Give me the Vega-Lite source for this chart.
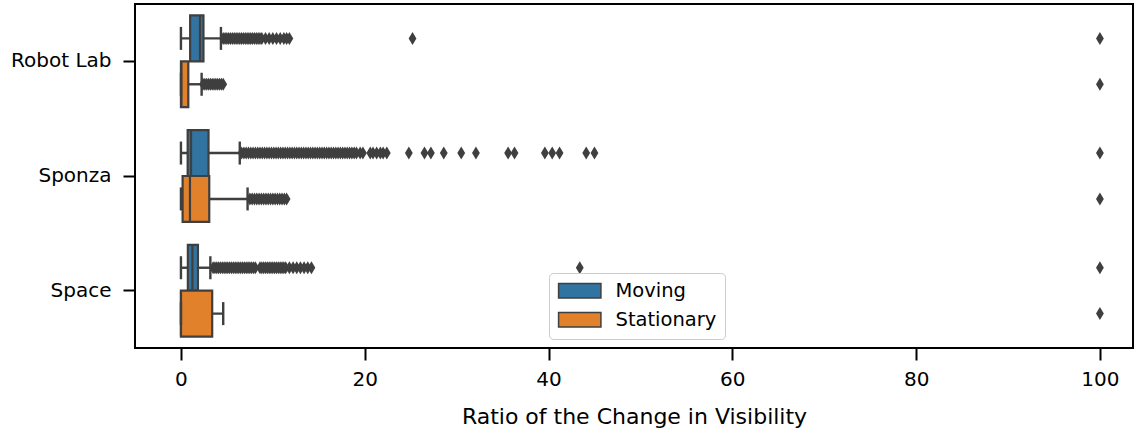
{
  "$schema": "https://vega.github.io/schema/vega-lite/v6.json",
  "width": 998,
  "height": 344,
  "autosize": {"type": "none"},
  "padding": {"left": 135, "top": 4, "right": 1, "bottom": 82},
  "background": "white",
  "config": {
    "font": "DejaVu Sans",
    "view": {"stroke": "black", "strokeWidth": 2},
    "axis": {
      "grid": false,
      "domain": false,
      "tickColor": "black",
      "tickWidth": 2,
      "tickSize": 12,
      "labelColor": "black",
      "labelFont": "DejaVu Sans",
      "labelFontSize": 20,
      "titleFont": "DejaVu Sans",
      "titleFontSize": 22,
      "titleFontWeight": "normal",
      "titleColor": "black"
    },
    "legend": {
      "labelFont": "DejaVu Sans",
      "labelFontSize": 19.5,
      "labelColor": "black"
    }
  },
  "datasets": {
    "boxes": [
      {"scene": "Robot Lab", "kind": "Moving", "lo": 0.0, "q1": 1.0, "med": 2.07, "q3": 2.45, "hi": 4.35},
      {"scene": "Robot Lab", "kind": "Stationary", "lo": 0.0, "q1": 0.0, "med": 0.05, "q3": 0.8, "hi": 2.25},
      {"scene": "Sponza", "kind": "Moving", "lo": 0.0, "q1": 0.73, "med": 1.1, "q3": 3.0, "hi": 6.4},
      {"scene": "Sponza", "kind": "Stationary", "lo": 0.0, "q1": 0.18, "med": 0.98, "q3": 3.08, "hi": 7.25},
      {"scene": "Space", "kind": "Moving", "lo": 0.0, "q1": 0.75, "med": 1.25, "q3": 1.85, "hi": 3.2},
      {"scene": "Space", "kind": "Stationary", "lo": 0.0, "q1": 0.0, "med": 0.0, "q3": 3.4, "hi": 4.6}
    ],
    "fliers": [
      {"scene": "Robot Lab", "kind": "Moving", "v": 4.6},
      {"scene": "Robot Lab", "kind": "Moving", "v": 4.8},
      {"scene": "Robot Lab", "kind": "Moving", "v": 5.0},
      {"scene": "Robot Lab", "kind": "Moving", "v": 5.2},
      {"scene": "Robot Lab", "kind": "Moving", "v": 5.4},
      {"scene": "Robot Lab", "kind": "Moving", "v": 5.6},
      {"scene": "Robot Lab", "kind": "Moving", "v": 5.8},
      {"scene": "Robot Lab", "kind": "Moving", "v": 6.0},
      {"scene": "Robot Lab", "kind": "Moving", "v": 6.2},
      {"scene": "Robot Lab", "kind": "Moving", "v": 6.4},
      {"scene": "Robot Lab", "kind": "Moving", "v": 6.6},
      {"scene": "Robot Lab", "kind": "Moving", "v": 6.8},
      {"scene": "Robot Lab", "kind": "Moving", "v": 7.0},
      {"scene": "Robot Lab", "kind": "Moving", "v": 7.2},
      {"scene": "Robot Lab", "kind": "Moving", "v": 7.4},
      {"scene": "Robot Lab", "kind": "Moving", "v": 7.6},
      {"scene": "Robot Lab", "kind": "Moving", "v": 7.8},
      {"scene": "Robot Lab", "kind": "Moving", "v": 8.0},
      {"scene": "Robot Lab", "kind": "Moving", "v": 8.2},
      {"scene": "Robot Lab", "kind": "Moving", "v": 8.4},
      {"scene": "Robot Lab", "kind": "Moving", "v": 8.6},
      {"scene": "Robot Lab", "kind": "Moving", "v": 8.8},
      {"scene": "Robot Lab", "kind": "Moving", "v": 9.2},
      {"scene": "Robot Lab", "kind": "Moving", "v": 9.6},
      {"scene": "Robot Lab", "kind": "Moving", "v": 10.0},
      {"scene": "Robot Lab", "kind": "Moving", "v": 10.4},
      {"scene": "Robot Lab", "kind": "Moving", "v": 10.8},
      {"scene": "Robot Lab", "kind": "Moving", "v": 11.2},
      {"scene": "Robot Lab", "kind": "Moving", "v": 11.5},
      {"scene": "Robot Lab", "kind": "Moving", "v": 11.8},
      {"scene": "Robot Lab", "kind": "Moving", "v": 25.2},
      {"scene": "Robot Lab", "kind": "Moving", "v": 100},
      {"scene": "Robot Lab", "kind": "Stationary", "v": 2.4},
      {"scene": "Robot Lab", "kind": "Stationary", "v": 2.6},
      {"scene": "Robot Lab", "kind": "Stationary", "v": 2.8},
      {"scene": "Robot Lab", "kind": "Stationary", "v": 3.0},
      {"scene": "Robot Lab", "kind": "Stationary", "v": 3.2},
      {"scene": "Robot Lab", "kind": "Stationary", "v": 3.4},
      {"scene": "Robot Lab", "kind": "Stationary", "v": 3.6},
      {"scene": "Robot Lab", "kind": "Stationary", "v": 3.8},
      {"scene": "Robot Lab", "kind": "Stationary", "v": 4.0},
      {"scene": "Robot Lab", "kind": "Stationary", "v": 4.2},
      {"scene": "Robot Lab", "kind": "Stationary", "v": 4.4},
      {"scene": "Robot Lab", "kind": "Stationary", "v": 4.6},
      {"scene": "Robot Lab", "kind": "Stationary", "v": 100},
      {"scene": "Sponza", "kind": "Moving", "v": 6.6},
      {"scene": "Sponza", "kind": "Moving", "v": 6.85},
      {"scene": "Sponza", "kind": "Moving", "v": 7.1},
      {"scene": "Sponza", "kind": "Moving", "v": 7.35},
      {"scene": "Sponza", "kind": "Moving", "v": 7.6},
      {"scene": "Sponza", "kind": "Moving", "v": 7.85},
      {"scene": "Sponza", "kind": "Moving", "v": 8.1},
      {"scene": "Sponza", "kind": "Moving", "v": 8.35},
      {"scene": "Sponza", "kind": "Moving", "v": 8.6},
      {"scene": "Sponza", "kind": "Moving", "v": 8.85},
      {"scene": "Sponza", "kind": "Moving", "v": 9.1},
      {"scene": "Sponza", "kind": "Moving", "v": 9.35},
      {"scene": "Sponza", "kind": "Moving", "v": 9.6},
      {"scene": "Sponza", "kind": "Moving", "v": 9.85},
      {"scene": "Sponza", "kind": "Moving", "v": 10.1},
      {"scene": "Sponza", "kind": "Moving", "v": 10.35},
      {"scene": "Sponza", "kind": "Moving", "v": 10.6},
      {"scene": "Sponza", "kind": "Moving", "v": 10.85},
      {"scene": "Sponza", "kind": "Moving", "v": 11.1},
      {"scene": "Sponza", "kind": "Moving", "v": 11.35},
      {"scene": "Sponza", "kind": "Moving", "v": 11.6},
      {"scene": "Sponza", "kind": "Moving", "v": 11.85},
      {"scene": "Sponza", "kind": "Moving", "v": 12.1},
      {"scene": "Sponza", "kind": "Moving", "v": 12.35},
      {"scene": "Sponza", "kind": "Moving", "v": 12.6},
      {"scene": "Sponza", "kind": "Moving", "v": 12.85},
      {"scene": "Sponza", "kind": "Moving", "v": 13.1},
      {"scene": "Sponza", "kind": "Moving", "v": 13.35},
      {"scene": "Sponza", "kind": "Moving", "v": 13.6},
      {"scene": "Sponza", "kind": "Moving", "v": 13.85},
      {"scene": "Sponza", "kind": "Moving", "v": 14.1},
      {"scene": "Sponza", "kind": "Moving", "v": 14.35},
      {"scene": "Sponza", "kind": "Moving", "v": 14.6},
      {"scene": "Sponza", "kind": "Moving", "v": 14.85},
      {"scene": "Sponza", "kind": "Moving", "v": 15.1},
      {"scene": "Sponza", "kind": "Moving", "v": 15.35},
      {"scene": "Sponza", "kind": "Moving", "v": 15.6},
      {"scene": "Sponza", "kind": "Moving", "v": 15.85},
      {"scene": "Sponza", "kind": "Moving", "v": 16.1},
      {"scene": "Sponza", "kind": "Moving", "v": 16.35},
      {"scene": "Sponza", "kind": "Moving", "v": 16.6},
      {"scene": "Sponza", "kind": "Moving", "v": 16.85},
      {"scene": "Sponza", "kind": "Moving", "v": 17.1},
      {"scene": "Sponza", "kind": "Moving", "v": 17.35},
      {"scene": "Sponza", "kind": "Moving", "v": 17.6},
      {"scene": "Sponza", "kind": "Moving", "v": 17.85},
      {"scene": "Sponza", "kind": "Moving", "v": 18.1},
      {"scene": "Sponza", "kind": "Moving", "v": 18.35},
      {"scene": "Sponza", "kind": "Moving", "v": 18.6},
      {"scene": "Sponza", "kind": "Moving", "v": 18.85},
      {"scene": "Sponza", "kind": "Moving", "v": 19.1},
      {"scene": "Sponza", "kind": "Moving", "v": 19.5},
      {"scene": "Sponza", "kind": "Moving", "v": 19.8},
      {"scene": "Sponza", "kind": "Moving", "v": 20.6},
      {"scene": "Sponza", "kind": "Moving", "v": 20.9},
      {"scene": "Sponza", "kind": "Moving", "v": 21.3},
      {"scene": "Sponza", "kind": "Moving", "v": 21.7},
      {"scene": "Sponza", "kind": "Moving", "v": 22.0},
      {"scene": "Sponza", "kind": "Moving", "v": 22.4},
      {"scene": "Sponza", "kind": "Moving", "v": 24.8},
      {"scene": "Sponza", "kind": "Moving", "v": 26.5},
      {"scene": "Sponza", "kind": "Moving", "v": 27.2},
      {"scene": "Sponza", "kind": "Moving", "v": 28.6},
      {"scene": "Sponza", "kind": "Moving", "v": 30.5},
      {"scene": "Sponza", "kind": "Moving", "v": 32.1},
      {"scene": "Sponza", "kind": "Moving", "v": 35.6},
      {"scene": "Sponza", "kind": "Moving", "v": 36.3},
      {"scene": "Sponza", "kind": "Moving", "v": 39.6},
      {"scene": "Sponza", "kind": "Moving", "v": 40.4},
      {"scene": "Sponza", "kind": "Moving", "v": 41.2},
      {"scene": "Sponza", "kind": "Moving", "v": 44.1},
      {"scene": "Sponza", "kind": "Moving", "v": 45.0},
      {"scene": "Sponza", "kind": "Moving", "v": 100},
      {"scene": "Sponza", "kind": "Stationary", "v": 7.5},
      {"scene": "Sponza", "kind": "Stationary", "v": 7.75},
      {"scene": "Sponza", "kind": "Stationary", "v": 8.0},
      {"scene": "Sponza", "kind": "Stationary", "v": 8.25},
      {"scene": "Sponza", "kind": "Stationary", "v": 8.5},
      {"scene": "Sponza", "kind": "Stationary", "v": 8.75},
      {"scene": "Sponza", "kind": "Stationary", "v": 9.0},
      {"scene": "Sponza", "kind": "Stationary", "v": 9.25},
      {"scene": "Sponza", "kind": "Stationary", "v": 9.5},
      {"scene": "Sponza", "kind": "Stationary", "v": 9.75},
      {"scene": "Sponza", "kind": "Stationary", "v": 10.0},
      {"scene": "Sponza", "kind": "Stationary", "v": 10.25},
      {"scene": "Sponza", "kind": "Stationary", "v": 10.5},
      {"scene": "Sponza", "kind": "Stationary", "v": 10.75},
      {"scene": "Sponza", "kind": "Stationary", "v": 11.0},
      {"scene": "Sponza", "kind": "Stationary", "v": 11.25},
      {"scene": "Sponza", "kind": "Stationary", "v": 11.5},
      {"scene": "Sponza", "kind": "Stationary", "v": 100},
      {"scene": "Space", "kind": "Moving", "v": 3.5},
      {"scene": "Space", "kind": "Moving", "v": 3.7},
      {"scene": "Space", "kind": "Moving", "v": 3.9},
      {"scene": "Space", "kind": "Moving", "v": 4.1},
      {"scene": "Space", "kind": "Moving", "v": 4.3},
      {"scene": "Space", "kind": "Moving", "v": 4.5},
      {"scene": "Space", "kind": "Moving", "v": 4.7},
      {"scene": "Space", "kind": "Moving", "v": 4.9},
      {"scene": "Space", "kind": "Moving", "v": 5.1},
      {"scene": "Space", "kind": "Moving", "v": 5.3},
      {"scene": "Space", "kind": "Moving", "v": 5.5},
      {"scene": "Space", "kind": "Moving", "v": 5.7},
      {"scene": "Space", "kind": "Moving", "v": 5.9},
      {"scene": "Space", "kind": "Moving", "v": 6.1},
      {"scene": "Space", "kind": "Moving", "v": 6.3},
      {"scene": "Space", "kind": "Moving", "v": 6.5},
      {"scene": "Space", "kind": "Moving", "v": 6.7},
      {"scene": "Space", "kind": "Moving", "v": 6.9},
      {"scene": "Space", "kind": "Moving", "v": 7.1},
      {"scene": "Space", "kind": "Moving", "v": 7.3},
      {"scene": "Space", "kind": "Moving", "v": 7.5},
      {"scene": "Space", "kind": "Moving", "v": 7.7},
      {"scene": "Space", "kind": "Moving", "v": 7.9},
      {"scene": "Space", "kind": "Moving", "v": 8.1},
      {"scene": "Space", "kind": "Moving", "v": 8.6},
      {"scene": "Space", "kind": "Moving", "v": 8.8},
      {"scene": "Space", "kind": "Moving", "v": 9.0},
      {"scene": "Space", "kind": "Moving", "v": 9.2},
      {"scene": "Space", "kind": "Moving", "v": 9.4},
      {"scene": "Space", "kind": "Moving", "v": 9.6},
      {"scene": "Space", "kind": "Moving", "v": 9.8},
      {"scene": "Space", "kind": "Moving", "v": 10.0},
      {"scene": "Space", "kind": "Moving", "v": 10.2},
      {"scene": "Space", "kind": "Moving", "v": 10.4},
      {"scene": "Space", "kind": "Moving", "v": 10.6},
      {"scene": "Space", "kind": "Moving", "v": 10.8},
      {"scene": "Space", "kind": "Moving", "v": 11.0},
      {"scene": "Space", "kind": "Moving", "v": 11.2},
      {"scene": "Space", "kind": "Moving", "v": 11.4},
      {"scene": "Space", "kind": "Moving", "v": 11.8},
      {"scene": "Space", "kind": "Moving", "v": 12.2},
      {"scene": "Space", "kind": "Moving", "v": 12.6},
      {"scene": "Space", "kind": "Moving", "v": 13.0},
      {"scene": "Space", "kind": "Moving", "v": 13.4},
      {"scene": "Space", "kind": "Moving", "v": 13.8},
      {"scene": "Space", "kind": "Moving", "v": 14.2},
      {"scene": "Space", "kind": "Moving", "v": 43.4},
      {"scene": "Space", "kind": "Moving", "v": 100},
      {"scene": "Space", "kind": "Stationary", "v": 100}
    ]
  },
  "encoding": {
    "y": {
      "field": "scene",
      "type": "nominal",
      "sort": ["Robot Lab", "Sponza", "Space"],
      "scale": {"paddingInner": 0, "paddingOuter": 0},
      "axis": {"title": null, "labelPadding": 12}
    },
    "yOffset": {
      "field": "kind",
      "type": "nominal",
      "sort": ["Moving", "Stationary"],
      "scale": {"paddingInner": 0, "paddingOuter": 0.25}
    }
  },
  "layer": [
    {
      "data": {"name": "boxes"},
      "mark": {"type": "rule", "color": "#3f3f3f", "strokeWidth": 2.4},
      "encoding": {
        "x": {
          "field": "lo",
          "type": "quantitative",
          "scale": {"domain": [-5, 103.6], "nice": false, "zero": false},
          "axis": {
            "values": [0, 20, 40, 60, 80, 100],
            "title": "Ratio of the Change in Visibility",
            "labelPadding": 9,
            "titlePadding": 17
          }
        },
        "x2": {"field": "hi"}
      }
    },
    {
      "data": {"name": "boxes"},
      "mark": {"type": "bar", "stroke": "#3f3f3f", "strokeWidth": 2.2, "opacity": 1},
      "encoding": {
        "x": {"field": "q1", "type": "quantitative"},
        "x2": {"field": "q3"},
        "fill": {
          "field": "kind",
          "type": "nominal",
          "scale": {"domain": ["Moving", "Stationary"], "range": ["#3274a1", "#e1812c"]},
          "legend": {
            "title": null,
            "orient": "none",
            "legendX": 414,
            "legendY": 269,
            "padding": 8,
            "fillColor": "white",
            "strokeColor": "#cccccc",
            "cornerRadius": 4,
            "symbolType": "M-2.75,-0.95H2.75V0.95H-2.75Z",
            "symbolSize": 237,
            "symbolOffset": 13,
            "symbolStrokeColor": "#3f3f3f",
            "symbolStrokeWidth": 1.5,
            "symbolOpacity": 1,
            "labelOffset": 26,
            "rowPadding": 7
          }
        }
      }
    },
    {
      "data": {"name": "boxes"},
      "mark": {"type": "tick", "color": "#3f3f3f", "thickness": 2.2, "size": 46, "orient": "vertical", "opacity": 1},
      "encoding": {"x": {"field": "med", "type": "quantitative"}}
    },
    {
      "data": {"name": "boxes"},
      "mark": {"type": "tick", "color": "#3f3f3f", "thickness": 2.4, "size": 23, "orient": "vertical", "opacity": 1},
      "encoding": {"x": {"field": "lo", "type": "quantitative"}}
    },
    {
      "data": {"name": "boxes"},
      "mark": {"type": "tick", "color": "#3f3f3f", "thickness": 2.4, "size": 23, "orient": "vertical", "opacity": 1},
      "encoding": {"x": {"field": "hi", "type": "quantitative"}}
    },
    {
      "data": {"name": "fliers"},
      "mark": {"type": "point", "shape": "M0,-1L0.6,0L0,1L-0.6,0Z", "size": 169, "filled": true, "color": "#3f3f3f", "opacity": 1},
      "encoding": {"x": {"field": "v", "type": "quantitative"}}
    }
  ]
}
